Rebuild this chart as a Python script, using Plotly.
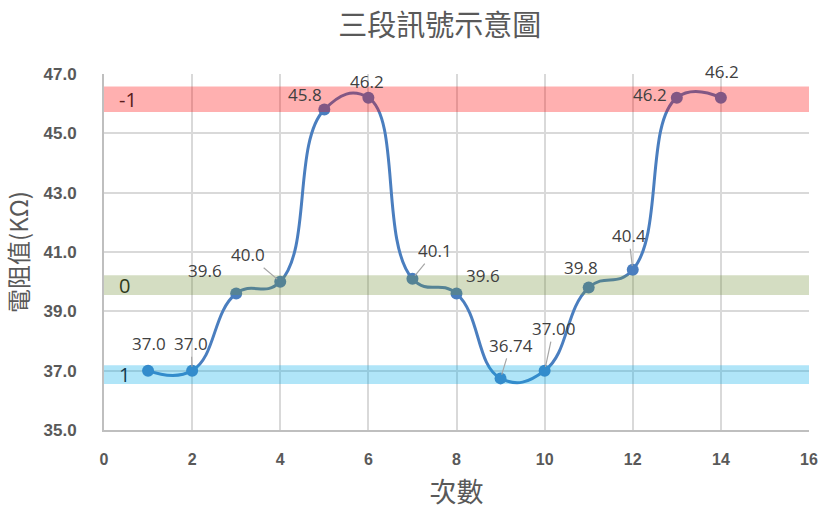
import plotly.graph_objects as go

# Measurement sequence
counts = [1, 2, 3, 4, 5, 6, 7, 8, 9, 10, 11, 12, 13, 14]
resistance = [37.0, 37.0, 39.6, 40.0, 45.8, 46.2, 40.1, 39.6, 36.74, 37.00, 39.8, 40.4, 46.2, 46.2]
value_labels = ["37.0", "37.0", "39.6", "40.0", "45.8", "46.2", "40.1", "39.6",
                "36.74", "37.00", "39.8", "40.4", "46.2", "46.2"]
# label offsets in pixels (dx, dy) and whether a leader line is drawn
label_dx = [1, -1, -31, -32, -19, -1, 23, 26, 10, 9, -8, -4, -27, 1]
label_dy = [-27, -27, -23, -27, -15, -16, -28, -18, -33, -42, -20, -34, -3, -26]
leader = [False, True, False, True, False, False, True, False, True, True, False, True, False, False]

# Signal level bands: (label, low, high, fill, label colour)
band_names = ["-1", "0", "1"]
band_low = [45.72, 39.55, 36.55]
band_high = [46.58, 40.22, 37.18]
band_fill = ["rgba(255,0,0,0.31)", "rgba(112,141,52,0.30)", "rgba(0,172,232,0.31)"]
band_text = ["#5a1c1c", "#2e3a1a", "#123a4e"]

line_color = "#4a7ebf"
grey = "#595959"

fig = go.Figure()
fig.add_trace(go.Scatter(
    x=counts, y=resistance, mode="lines+markers",
    line=dict(color=line_color, width=3, shape="spline", smoothing=1.3),
    marker=dict(color=line_color, size=12),
    hoverinfo="x+y", showlegend=False,
))

shapes = []
annotations = []
for name, lo, hi, fill, tc in zip(band_names, band_low, band_high, band_fill, band_text):
    shapes.append(dict(type="rect", xref="paper", yref="y", x0=0, x1=1, y0=lo, y1=hi,
                       fillcolor=fill, line=dict(width=0), layer="above"))
    annotations.append(dict(x=0.3, y=(lo + hi) / 2, xref="x", yref="y", text=name,
                            showarrow=False, xanchor="left", yanchor="middle",
                            font=dict(family="Open Sans", size=20, color=tc)))

for x, y, t, dx, dy, ld in zip(counts, resistance, value_labels, label_dx, label_dy, leader):
    annotations.append(dict(
        x=x, y=y, xref="x", yref="y", text=t,
        showarrow=True, ax=dx, ay=dy, arrowhead=0, arrowwidth=1.2,
        arrowcolor="#a6a6a6" if ld else "rgba(0,0,0,0)", standoff=4,
        font=dict(family="Open Sans", size=17, color="#404040"),
    ))

fig.update_layout(
    width=819, height=510,
    margin=dict(l=104, r=10, t=74, b=80, autoexpand=False),
    paper_bgcolor="white", plot_bgcolor="white",
    title=dict(text="三段訊號示意圖", x=0.537, xanchor="center", y=0.95, yanchor="middle",
               font=dict(family="Noto Sans CJK TC", size=29, color=grey)),
    xaxis=dict(range=[0, 16], tickvals=[0, 2, 4, 6, 8, 10, 12, 14, 16],
               showgrid=True, gridcolor="#d9d9d9", gridwidth=2,
               showline=True, linecolor="#bfbfbf", linewidth=2,
               zeroline=False, ticks="", ticklabelstandoff=14, automargin=False,
               tickfont=dict(family="Liberation Sans", size=16, color=grey, weight="bold"),
               title=dict(text="次數", standoff=18,
                          font=dict(family="Noto Sans CJK TC", size=27, color=grey))),
    yaxis=dict(range=[35, 47], tickvals=[35, 37, 39, 41, 43, 45, 47], tickformat=".1f",
               showgrid=True, gridcolor="#d9d9d9", gridwidth=2,
               showline=True, linecolor="#bfbfbf", linewidth=2,
               zeroline=False, ticks="", ticklabelstandoff=22, automargin=False,
               tickfont=dict(family="Liberation Sans", size=17, color=grey, weight="bold"),
               title=dict(text="電阻值(KΩ)", standoff=8,
                          font=dict(family="Noto Sans CJK TC", size=24, color=grey))),
    shapes=shapes,
    annotations=annotations,
)

fig.write_html("out.html")
